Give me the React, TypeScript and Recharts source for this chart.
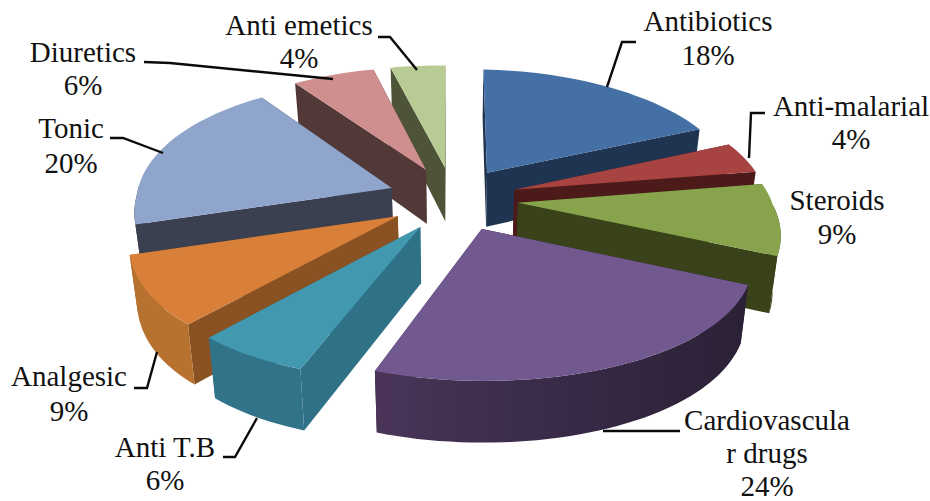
import React from "react";
import { PieChart, Pie } from "recharts";

const categories = [
  "Antibiotics",
  "Anti-malarial",
  "Steroids",
  "Cardiovascular drugs",
  "Anti T.B",
  "Analgesic",
  "Tonic",
  "Diuretics",
  "Anti emetics",
];
const shares = [18, 4, 9, 24, 6, 9, 20, 6, 4];

const topColors = ["#4470A5", "#A74442", "#87A44C", "#71588F", "#4198AF", "#D8803A", "#8FA5CC", "#CE8F8E", "#B8CB94"];
const wallColors = ["#1F3450", "#4C1A18", "#394219", "#2E2438", "#2F7186", "#8A5222", "#3A4050", "#533838", "#4D5438"];
const rimColors = ["#1F3450", "#4C1A18", "#394219", "#2E2438", "#31748A", "#B8722F", "#3A4050", "#533838", "#4D5438"];

// Text is wrapped the way the chart wraps it, so the long name breaks mid-word.
const labelLines: Record<string, string[]> = {
  "Cardiovascular drugs": ["Cardiovascula", "r drugs"],
};

// Label anchor (centre x, first baseline) and leader polyline for each slice.
const labelLayout: Record<string, { x: number; y: number; gap: number; leader?: number[][] }> = {
  Antibiotics: { x: 708, y: 31, gap: 34, leader: [[607, 87], [622, 42], [636, 42]] },
  "Anti-malarial": { x: 851, y: 116, gap: 33, leader: [[749, 158], [751, 113], [765, 113]] },
  Steroids: { x: 837, y: 210, gap: 34 },
  "Cardiovascular drugs": { x: 767, y: 430, gap: 33, leader: [[603, 431], [680, 431]] },
  "Anti T.B": { x: 165, y: 457, gap: 33, leader: [[257, 418], [235, 457], [223, 457]] },
  Analgesic: { x: 69, y: 386, gap: 35, leader: [[157, 352], [147, 388], [134, 388]] },
  Tonic: { x: 71, y: 138, gap: 35, leader: [[163, 153], [123, 138], [110, 138]] },
  Diuretics: { x: 83, y: 62, gap: 33, leader: [[333, 79], [170, 63], [144, 62]] },
  "Anti emetics": { x: 299, y: 35, gap: 33, leader: [[417, 70], [390, 37], [378, 37]] },
};

const rows = categories.map((name, i) => ({ name, value: shares[i], order: i }));
const rowsBackwards = [...rows].reverse();

// 3D view of the disc: tilt, foreshortening and how far each wedge is pulled out.
const TILT = 0.494;
const EXPLODE = 0.255;
const THICKNESS = 55;
const WALL_TAPER = 0.025;
const RAD = Math.PI / 180;

type Pt = [number, number];

function toPath(points: Pt[]) {
  return "M" + points.map((p) => `${p[0].toFixed(1)},${p[1].toFixed(1)}`).join("L") + "Z";
}

function Wedge(props: any) {
  const { cx, cy, outerRadius: R, startAngle, endAngle, order } = props;
  let lo = Math.min(90 - startAngle, 90 - endAngle);
  let hi = Math.max(90 - startAngle, 90 - endAngle);
  if (lo < 0) {
    lo += 360;
    hi += 360;
  }
  const mid = (lo + hi) / 2;

  const project = (angle: number, r: number, drop: boolean): Pt => {
    const X = r * Math.sin(angle * RAD) + EXPLODE * Math.sin(mid * RAD);
    const Z = -r * Math.cos(angle * RAD) - EXPLODE * Math.cos(mid * RAD);
    // The near half of the disc grows faster sideways and slower in depth than the far half.
    const widen = 1 / (1 - (Z < 0 ? 0.12 : 0.18) * Z);
    const deepen = 1 / (1 - (Z < 0 ? 0.15 : 0.12) * Z);
    const px = cx + R * X * widen - (Z > 0 ? 8 * Z ** 3 : 0);
    // Slight roll of the camera: the right side sits lower, the left side higher.
    const roll = (px - cx) * (px > cx ? 0.018 : 0.012);
    const py = cy + R * TILT * Z * deepen + roll;
    if (!drop) return [px, py];
    // The underside of the wedge converges slightly towards the middle.
    return [px - (px - cx) * WALL_TAPER, py + THICKNESS * (1 + 0.1 * Z)];
  };

  const arc = (from: number, to: number, drop: boolean) => {
    const steps = Math.max(2, Math.ceil((to - from) / 2));
    const out: Pt[] = [];
    for (let i = 0; i <= steps; i++) out.push(project(from + ((to - from) * i) / steps, 1, drop));
    return out;
  };

  const radialWall = (angle: number) =>
    toPath([project(angle, 0, false), project(angle, 1, false), project(angle, 1, true), project(angle, 0, true)]);

  const rimFrom = Math.max(lo, 90);
  const rimTo = Math.min(hi, 270);
  const gradientId = `rim-${order}`;
  const isLargest = shares[order] === Math.max(...shares);

  return (
    <g>
      <path d={radialWall(lo)} fill={wallColors[order]} />
      <path d={radialWall(hi)} fill={wallColors[order]} />
      {rimFrom < rimTo && (
        <>
          {isLargest && (
            <defs>
              <linearGradient id={gradientId} x1="0" y1="0" x2="1" y2="0">
                <stop offset="0" stopColor="#4A3558" />
                <stop offset="0.45" stopColor="#3A2B49" />
                <stop offset="1" stopColor="#2B2136" />
              </linearGradient>
            </defs>
          )}
          <path
            d={toPath([...arc(rimFrom, rimTo, false), ...arc(rimFrom, rimTo, true).reverse()])}
            fill={isLargest ? `url(#${gradientId})` : rimColors[order]}
          />
        </>
      )}
      <path d={toPath([project(lo, 0, false), ...arc(lo, hi, false)])} fill={topColors[order]} />
    </g>
  );
}

// The two passes share one pie layout; each draws only its own run of wedges.
const FarWedge = (props: any) => (props.order > 3 ? <Wedge {...props} /> : <g />);
const NearWedge = (props: any) => (props.order <= 3 ? <Wedge {...props} /> : <g />);

function SliceLabel(props: any) {
  const { name, value } = props;
  const place = labelLayout[name];
  const lines = [...(labelLines[name] ?? [name]), `${value}%`];
  return (
    <g>
      {place.leader && (
        <polyline
          points={place.leader.map((p) => p.join(",")).join(" ")}
          fill="none"
          stroke="#0a0a0a"
          strokeWidth={2.4}
        />
      )}
      {lines.map((line, i) => (
        <text
          key={line}
          x={place.x}
          y={place.y + i * place.gap}
          textAnchor="middle"
          fontFamily="'Liberation Serif', serif"
          fontSize={29}
          fill="#111"
        >
          {line}
        </text>
      ))}
    </g>
  );
}

export default function App() {
  return (
    <div style={{ position: "absolute", left: 0, top: 0, width: 930, height: 501, background: "#fff" }}>
      <PieChart width={930} height={501} margin={{ top: 0, right: 0, bottom: 0, left: 0 }}>
        {/* Far-left wedges go first, walking counter-clockwise, so nearer ones cover them. */}
        <Pie
          data={rowsBackwards}
          dataKey="value"
          nameKey="name"
          cx={453}
          cy={198.5}
          outerRadius={255}
          startAngle={90}
          endAngle={450}
          stroke="none"
          isAnimationActive={false}
          label={false}
          labelLine={false}
          shape={FarWedge}
        />
        <Pie
          data={rows}
          dataKey="value"
          nameKey="name"
          cx={453}
          cy={198.5}
          outerRadius={255}
          startAngle={90}
          endAngle={-270}
          stroke="none"
          isAnimationActive={false}
          label={SliceLabel}
          labelLine={false}
          shape={NearWedge}
        />
      </PieChart>
    </div>
  );
}
